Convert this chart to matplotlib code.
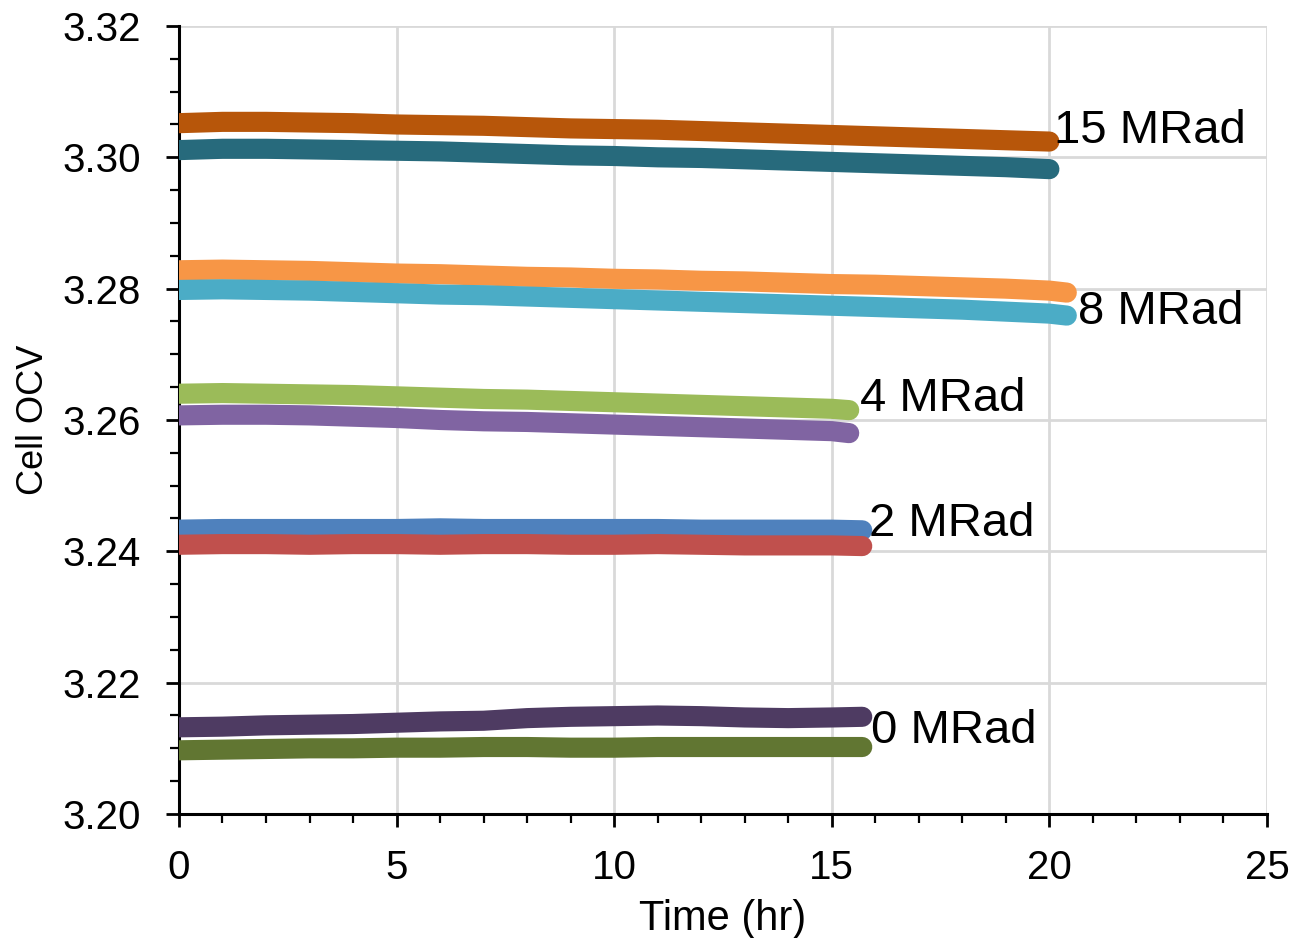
import numpy as np
import matplotlib

matplotlib.use('agg')
import matplotlib.pyplot as plt
from matplotlib.ticker import MultipleLocator, FormatStrFormatter

plt.rcParams['font.family'] = ['Liberation Sans', 'DejaVu Sans']

# Time axes (hr) for each dose group
t_15 = [0, 1, 2, 3, 4, 5, 6, 7, 8, 9, 10, 11, 12, 13, 14, 15, 16, 17, 18, 19, 20]
t_8 = [0, 1, 2, 3, 4, 5, 6, 7, 8, 9, 10, 11, 12, 13, 14, 15, 16, 17, 18, 19, 20, 20.4]
t_4 = [0, 1, 2, 3, 4, 5, 6, 7, 8, 9, 10, 11, 12, 13, 14, 15, 15.4]
t_2 = [0, 1, 2, 3, 4, 5, 6, 7, 8, 9, 10, 11, 12, 13, 14, 15, 15.7]
t_0 = [0, 1, 2, 3, 4, 5, 6, 7, 8, 9, 10, 11, 12, 13, 14, 15, 15.7]

# Open circuit voltage (V), two cells per dose
ocv_15a = [3.3052, 3.3054, 3.3054, 3.3053, 3.3052, 3.3050, 3.3049, 3.3048,
           3.3046, 3.3044, 3.3043, 3.3042, 3.3040, 3.3038, 3.3036, 3.3034,
           3.3032, 3.3030, 3.3028, 3.3026, 3.3024]
ocv_15b = [3.3011, 3.3013, 3.3013, 3.3012, 3.3011, 3.3010, 3.3009, 3.3007,
           3.3005, 3.3003, 3.3002, 3.3000, 3.2999, 3.2997, 3.2995, 3.2993,
           3.2991, 3.2989, 3.2987, 3.2985, 3.2982]
ocv_8a = [3.2828, 3.2829, 3.2828, 3.2827, 3.2825, 3.2823, 3.2822, 3.2820,
          3.2818, 3.2817, 3.2815, 3.2814, 3.2812, 3.2811, 3.2809, 3.2807,
          3.2806, 3.2804, 3.2802, 3.2800, 3.2797, 3.2794]
ocv_8b = [3.2798, 3.2799, 3.2798, 3.2797, 3.2795, 3.2793, 3.2791, 3.2790,
          3.2788, 3.2786, 3.2784, 3.2782, 3.2780, 3.2778, 3.2776, 3.2774,
          3.2772, 3.2770, 3.2768, 3.2765, 3.2762, 3.2759]
ocv_4a = [3.2640, 3.2641, 3.2640, 3.2639, 3.2638, 3.2636, 3.2634, 3.2632,
          3.2631, 3.2629, 3.2627, 3.2625, 3.2623, 3.2621, 3.2619, 3.2617,
          3.2615]
ocv_4b = [3.2607, 3.2608, 3.2608, 3.2607, 3.2605, 3.2603, 3.2600, 3.2598,
          3.2597, 3.2595, 3.2593, 3.2591, 3.2589, 3.2587, 3.2585, 3.2583,
          3.2580]
ocv_2a = [3.2433, 3.2434, 3.2434, 3.2434, 3.2434, 3.2434, 3.2435, 3.2434,
          3.2434, 3.2434, 3.2434, 3.2434, 3.2433, 3.2433, 3.2433, 3.2433,
          3.2432]
ocv_2b = [3.2410, 3.2411, 3.2411, 3.2410, 3.2411, 3.2411, 3.2410, 3.2411,
          3.2411, 3.2410, 3.2410, 3.2411, 3.2410, 3.2409, 3.2409, 3.2409,
          3.2408]
ocv_0a = [3.2132, 3.2133, 3.2135, 3.2136, 3.2137, 3.2139, 3.2141, 3.2142,
          3.2146, 3.2148, 3.2149, 3.2150, 3.2149, 3.2147, 3.2146, 3.2147,
          3.2148]
ocv_0b = [3.2097, 3.2098, 3.2099, 3.2100, 3.2100, 3.2101, 3.2101, 3.2102,
          3.2102, 3.2101, 3.2101, 3.2102, 3.2102, 3.2102, 3.2102, 3.2102,
          3.2102]

dose_labels = ["15 MRad", "8 MRad", "4 MRad", "2 MRad", "0 MRad"]

series = [
    (t_15, ocv_15a, '#B7560A'),
    (t_15, ocv_15b, '#276A7C'),
    (t_8, ocv_8a, '#F79646'),
    (t_8, ocv_8b, '#4BACC6'),
    (t_4, ocv_4a, '#9BBB59'),
    (t_4, ocv_4b, '#8064A2'),
    (t_2, ocv_2a, '#4F81BD'),
    (t_2, ocv_2b, '#C0504D'),
    (t_0, ocv_0a, '#4E3B62'),
    (t_0, ocv_0b, '#617632'),
]

# label anchors (time, voltage) next to the end of each pair
label_pos = [(20.1, 3.3040), (20.65, 3.2764), (15.65, 3.2632),
             (15.85, 3.2441), (15.9, 3.2127)]

fig = plt.figure(figsize=(12.96, 9.38), dpi=100)
ax = fig.add_axes([0.1381, 0.1322, 0.8395, 0.8401])

for t, v, c in series:
    ax.plot(t, v, color=c, lw=14.5, solid_capstyle='round',
            solid_joinstyle='round', zorder=3)

for lbl, (x, y) in zip(dose_labels, label_pos):
    ax.text(x, y, lbl, fontsize=34, va='center', ha='left', zorder=4)

ax.set_xlim(0, 25)
ax.set_ylim(3.20, 3.32)
ax.xaxis.set_major_locator(MultipleLocator(5))
ax.xaxis.set_minor_locator(MultipleLocator(1))
ax.yaxis.set_major_locator(MultipleLocator(0.02))
ax.yaxis.set_minor_locator(MultipleLocator(0.005))
ax.yaxis.set_major_formatter(FormatStrFormatter('%.2f'))

ax.grid(True, which='major', color='#D9D9D9', lw=2, zorder=0)
ax.set_axisbelow(True)
ax.spines['top'].set_visible(False)
ax.spines['right'].set_visible(False)
ax.spines['left'].set_linewidth(2.2)
ax.spines['bottom'].set_linewidth(2.2)
ax.tick_params(which='major', direction='out', length=9.5, width=2,
               labelsize=29)
ax.tick_params(axis='y', which='major', pad=18)
ax.tick_params(axis='x', which='major', pad=16)
ax.tick_params(which='minor', direction='out', length=6.5, width=1.6)

ax.set_xlabel("Time (hr)", fontsize=30, labelpad=8)
ax.set_ylabel("Cell OCV", fontsize=26, labelpad=8)

fig.savefig('out.png', dpi=100)
plt.close(fig)
